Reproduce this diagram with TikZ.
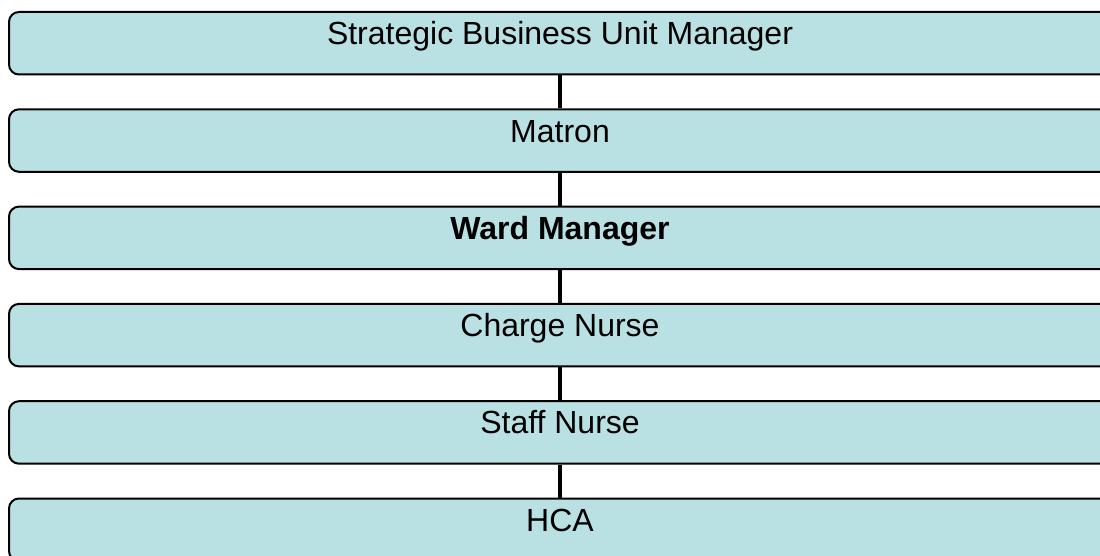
\documentclass[tikz,border=0pt]{standalone}
\usepackage{fontspec}
\setmainfont{Liberation Sans}
\usepackage{tikz}
\usetikzlibrary{positioning}
\definecolor{boxfill}{RGB}{185,224,226}

\begin{document}
\begin{tikzpicture}[x=1pt, y=1pt, node distance=32.8pt,
	box/.style={draw, line width=2, fill=boxfill, rounded corners=10,
		minimum width=1102, minimum height=62.5, inner sep=0,
		text height=22, text depth=19, font=\fontsize{32}{38}\selectfont}]

		\clip (0,0) rectangle (1100,-556);

		% nodes - one box per grade %
		\node[box] (sbu) at (560,-43.25) {Strategic Business Unit Manager};
		\node[box, below = of sbu] (matron) {Matron};
		\node[box, below = of matron] (ward) {\bfseries Ward Manager};
		\node[box, below = of ward] (charge) {Charge Nurse};
		\node[box, below = of charge] (staff) {Staff Nurse};
		\node[box, below = of staff] (hca) {HCA};

		% edges %
		\draw[line width=4.5] (sbu) -- (matron);
		\draw[line width=4.5] (matron) -- (ward);
		\draw[line width=4.5] (ward) -- (charge);
		\draw[line width=4.5] (charge) -- (staff);
		\draw[line width=4.5] (staff) -- (hca);

		\end{tikzpicture}
\end{document}
